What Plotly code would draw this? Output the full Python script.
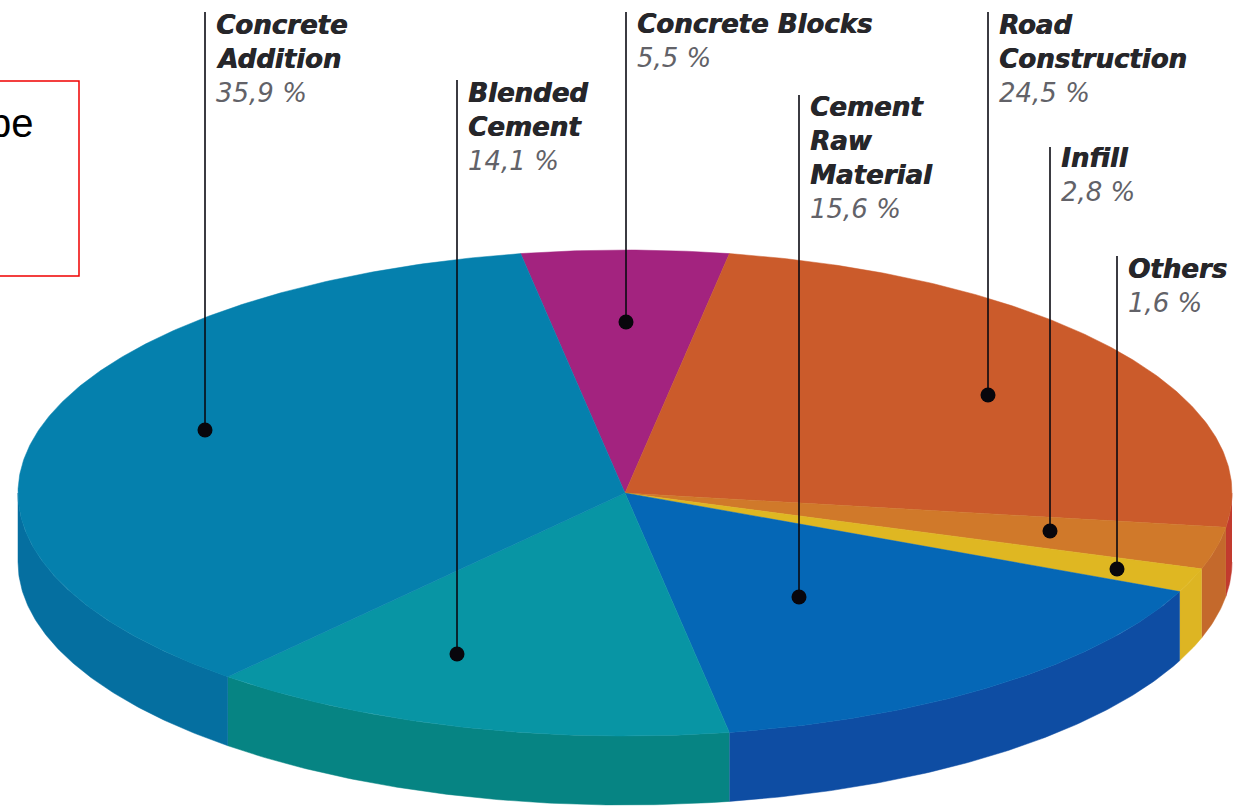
import numpy as np
import plotly.graph_objects as go

# ---- data (clockwise from the top of the pie) ----
categories = ["Concrete Blocks", "Road Construction", "Infill", "Others",
              "Cement Raw Material", "Blended Cement", "Concrete Addition"]
shares = [5.5, 24.5, 2.8, 1.6, 15.6, 14.1, 35.9]

# ---- label wrapping ----
name_lines = [["Concrete Blocks"], ["Road", "Construction"], ["Infill"], ["Others"],
              ["Cement", "Raw", "Material"], ["Blended", "Cement"], ["Concrete", "Addition"]]

# ---- styles ----
top_colors = ["#A3237F", "#CB5B2B", "#D0792A", "#DFB722", "#0567B6", "#0895A4", "#0580AD"]
side_colors = ["#A3237F", "#C23A2E", "#C4692C", "#DDB523", "#0E4DA3", "#068483", "#056FA0"]

# ---- layout in the picture ----
W, H = 1240, 807
CX, CY, RX, RY, DEPTH = 625, 493, 607, 243, 69
START = -9.9
leader_x = [626, 988, 1050, 1117, 799, 457, 205]
leader_top = [12, 12, 147, 256, 95, 80, 12]
leader_dot = [322, 395, 531, 569, 597, 654, 430]
first_line_y = [24, 25, 158, 269, 107, 93, 25]
LINE_STEP = 34


def arc(a, b, dy=0.0):
    t = np.radians(np.linspace(a, b, max(int(abs(b - a) * 2), 2)))
    return CX + RX * np.sin(t), CY + dy - RY * np.cos(t)


fig = go.Figure()
cum = START
spans = []
total = sum(shares)
for v in shares:
    spans.append((cum, cum + v / total * 360))
    cum += v / total * 360

# side walls (only the front half of the disc shows one)
for (a, b), c in zip(spans, side_colors):
    lo, hi = max(a, 90), min(b, 270)
    if hi <= lo:
        continue
    x1, y1 = arc(lo, hi)
    x2, y2 = arc(hi, lo, DEPTH)
    fig.add_trace(go.Scatter(x=np.r_[x1, x2], y=np.r_[y1, y2], mode="lines", fill="toself",
                             fillcolor=c, line=dict(width=0.5, color=c), hoverinfo="skip"))

# top face
for (a, b), c, name in zip(spans, top_colors, categories):
    x1, y1 = arc(a, b)
    fig.add_trace(go.Scatter(x=np.r_[CX, x1, CX], y=np.r_[CY, y1, CY], mode="lines", fill="toself",
                             fillcolor=c, line=dict(width=0.5, color=c), name=name, hoverinfo="name"))

# leaders
for x, t, d in zip(leader_x, leader_top, leader_dot):
    fig.add_trace(go.Scatter(x=[x, x], y=[t, d], mode="lines", line=dict(color="#0a0a12", width=1.6),
                             hoverinfo="skip"))
    fig.add_trace(go.Scatter(x=[x], y=[d], mode="markers", marker=dict(color="#08060c", size=15),
                             hoverinfo="skip"))

# labels
annotations = []
for lines, v, x, y0 in zip(name_lines, shares, leader_x, first_line_y):
    for i, s in enumerate(lines):
        annotations.append(dict(x=x + 9, y=y0 + i * LINE_STEP, text=s, xref="x", yref="y", showarrow=False,
                                xanchor="left", yanchor="middle",
                                font=dict(family="DejaVu Sans", size=26, color="#26262a", weight=700, style="italic",
                                          shadow="0.7px 0 0 #26262a")))
    pct = f"{v:.1f} %".replace(".", ",")
    annotations.append(dict(x=x + 9, y=y0 + len(lines) * LINE_STEP, text=pct, xref="x", yref="y", showarrow=False,
                            xanchor="left", yanchor="middle",
                            font=dict(family="DejaVu Sans", size=26, color="#626268", weight=200, style="italic")))
annotations.append(dict(x=36, y=123, text="be", xref="x", yref="y", showarrow=False, xanchor="right",
                        yanchor="middle", font=dict(family="Liberation Sans", size=40, color="#000000")))

fig.update_layout(
    width=W, height=H, margin=dict(l=0, r=0, t=0, b=0), showlegend=False,
    paper_bgcolor="white", plot_bgcolor="white",
    xaxis=dict(range=[0, W], visible=False, fixedrange=True),
    yaxis=dict(range=[H, 0], visible=False, fixedrange=True),
    annotations=annotations,
    shapes=[dict(type="rect", xref="x", yref="y", x0=-10, x1=79, y0=81, y1=276,
                 line=dict(color="#F00000", width=1.5), fillcolor="rgba(0,0,0,0)")],
)
fig.write_html("out.html", config={"displayModeBar": False},
               post_script="document.body.style.margin='0';document.documentElement.style.overflow='hidden';")
